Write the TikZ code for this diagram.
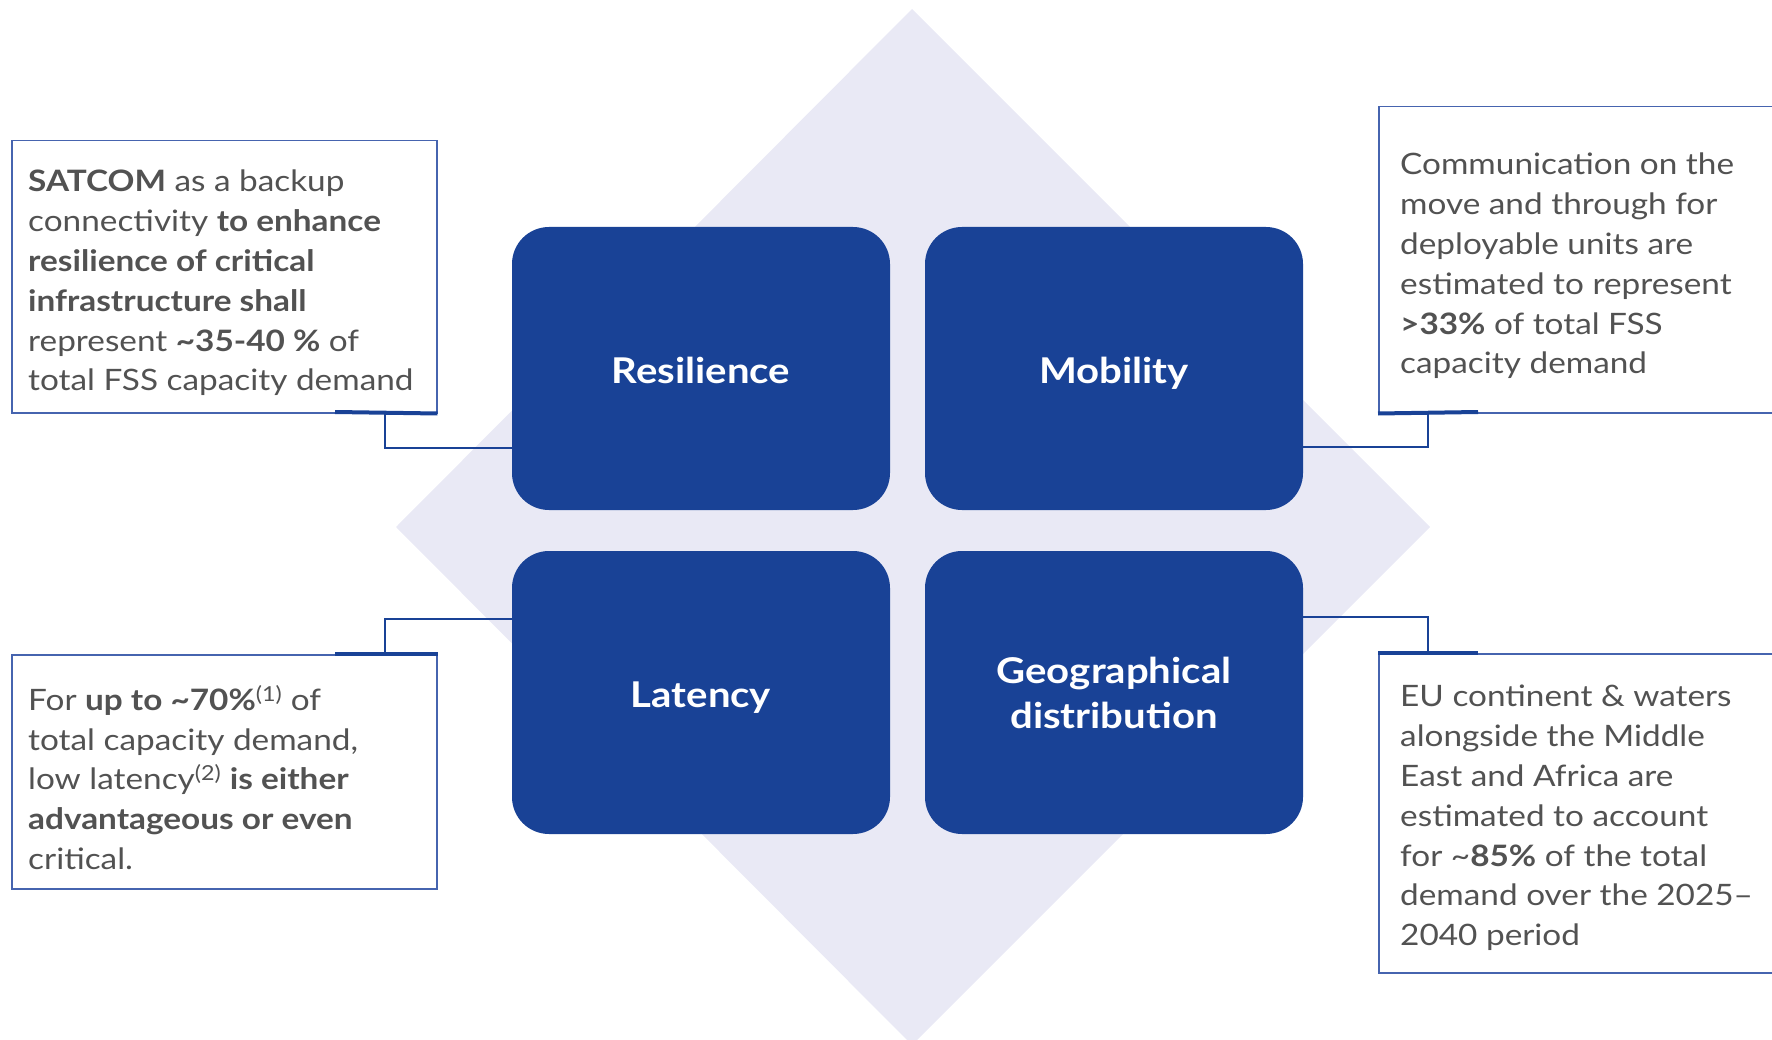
\documentclass[tikz,border=0pt]{standalone}
\usepackage{fontspec}
\setmainfont{Lato}[FakeStretch=1.13]
\definecolor{dblue}{RGB}{25,66,150}
\definecolor{dia}{RGB}{233,233,245}
\definecolor{tgray}{RGB}{82,82,82}
\definecolor{bline}{RGB}{70,100,175}
\begin{document}
\begin{tikzpicture}[x=1pt,y=-1pt,
  cat/.style={fill=dblue, rounded corners=37pt, minimum width=378pt, minimum height=283pt,
    inner sep=0pt, text=white, font=\fontsize{35.5}{45}\selectfont\bfseries, align=center},
  oneline/.style={text height=30pt, text depth=0pt},
  tbox/.style={draw=bline, line width=1.5pt, anchor=north west, inner sep=0pt},
  ttext/.style={anchor=north west, inner sep=0pt, text=tgray, align=left,
    font=\fontsize{29.5}{39.8}\selectfont},
  conn/.style={draw=dblue, line width=2.5pt},
  tabline/.style={draw=dblue, line width=4pt}
]
\useasboundingbox (0,0) rectangle (1772,1040);
% diamond background
\fill[dia] (912,9) -- (1430,527) -- (912,1045) -- (396,527) -- cycle;

% category boxes
\node[cat, oneline] (res) at (701,368.5) {Resilience};
\node[cat, oneline] (mob) at (1114,368.5) {Mobility};
\node[cat, oneline] (lat) at (701,692.5) {Latency};
\node[cat] (geo) at (1114,692.5) {Geographical\\distribution};

% text boxes
\node[tbox, minimum width=425pt, minimum height=272pt] (tl) at (11,140) {};
\node[tbox, minimum width=420pt, minimum height=306pt] (tr) at (1378,106) {};
\node[tbox, minimum width=425pt, minimum height=234pt] (bl) at (11,654) {};
\node[tbox, minimum width=420pt, minimum height=319pt] (br) at (1378,653) {};

% tabs
\draw[tabline] (335,412) -- (tl.south east);
\draw[tabline] (tr.south west) -- (1478,412);
\draw[tabline] (335,654) -- (bl.north east);
\draw[tabline] (br.north west) -- (1478,653);

% connectors
\draw[conn] (385,412) |- (res.west |- 0,448);
\draw[conn] (1428,412) |- (mob.east |- 0,447);
\draw[conn] (385,654) |- (lat.west |- 0,619);
\draw[conn] (1428,653) |- (geo.east |- 0,617);

% texts
\node[ttext] (tlt) at (28,170) {\textbf{SATCOM} as a backup\\
connectivity \textbf{to enhance}\\
\textbf{resilience of critical}\\
\textbf{infrastructure shall}\\
represent \textbf{\textasciitilde35-40 \%} of\\
total FSS capacity demand};

\node[ttext] (trt) at (1400,153) {Communication on the\\
move and through for\\
deployable units are\\
estimated to represent\\
\textbf{>33\%} of total FSS\\
capacity demand};

\node[ttext] (blt) at (28,685) {For \textbf{up to \textasciitilde70\%}\textsuperscript{(1)} of\\
total capacity demand,\\
low latency\textsuperscript{(2)} \textbf{is either}\\
\textbf{advantageous or even}\\
critical.};

\node[ttext] (brt) at (1400,685) {EU continent \& waters\\
alongside the Middle\\
East and Africa are\\
estimated to account\\
for \textasciitilde\textbf{85\%} of the total\\
demand over the 2025--\\
2040 period};
\end{tikzpicture}
\end{document}
